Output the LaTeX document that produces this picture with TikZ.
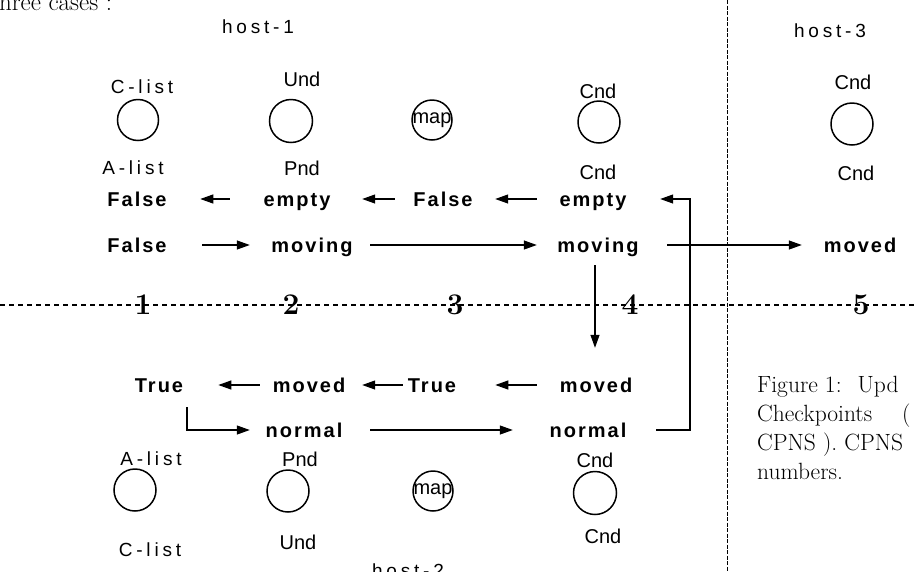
\documentclass[tikz,border=0pt]{standalone}
\usepackage{fontspec}
\usetikzlibrary{arrows.meta}
\newfontfamily\lblfont[LetterSpace=20]{Liberation Sans}
\newfontfamily\ndfont{Liberation Sans}
\newfontfamily\stfont[LetterSpace=10]{Liberation Sans Bold}
\tikzset{
  lbl/.style={font=\lblfont\fontsize{19}{21}\selectfont, inner sep=0pt},
  nd/.style={font=\ndfont\fontsize{20}{22}\selectfont, inner sep=0pt},
  st/.style={font=\stfont\fontsize{20}{22}\selectfont, inner sep=0pt, text height=14pt, text depth=0pt},
  ring/.style={draw, circle, line width=1.5pt, inner sep=0pt},
  arr/.style={line width=1.2pt, -{Triangle[length=13pt,width=9pt]}},
  num/.style={font=\bfseries\fontsize{30}{30}\selectfont, inner sep=0pt},
  capt/.style={font=\fontsize{23.5}{29}\selectfont, inner sep=0pt, anchor=base west},
  mapt/.style={font=\ndfont\fontsize{20}{22}\selectfont},
}
\begin{document}
\begin{tikzpicture}[x=1pt, y=-1pt]
\useasboundingbox (0,0) rectangle (918,571);
\clip (0,0) rectangle (918,571);

% heading fragment
\node[capt, font=\fontsize{25}{29}\selectfont] (head) at (-10,10) {three cases :};

% host labels
\node[lbl] (h1) at (258,27) {host-1};
\node[lbl] (h3) at (830,31) {host-3};
\node[lbl, anchor=base] (h2) at (408,577) {host-2};

% top circles
\node[lbl] (cl1) at (142,87) {C-list};
\node[ring, minimum size=41pt] (c1) at (138,120) {};
\node[lbl] (al1) at (133,168) {A-list};
\node[nd] (und1) at (302,79) {Und};
\node[ring, minimum size=43pt] (c2) at (291,121) {};
\node[nd] (pnd1) at (302,168) {Pnd};
\node[ring, minimum size=40pt, mapt] (map1) at (432,120) {\makebox[0pt]{map}};
\node[nd] (cnd1) at (598,91) {Cnd};
\node[ring, minimum size=42pt] (c4) at (599,122) {};
\node[nd] (cnd2) at (598,172) {Cnd};
\node[nd] (cnd3) at (853,82) {Cnd};
\node[ring, minimum size=42pt] (c5) at (852,124) {};
\node[nd] (cnd4) at (856,173) {Cnd};

% bottom circles
\node[lbl] (al2) at (151,459) {A-list};
\node[ring, minimum size=42pt] (d1) at (135,490) {};
\node[lbl] (cl2) at (150,550) {C-list};
\node[nd] (pnd2) at (300,459) {Pnd};
\node[ring, minimum size=42pt] (d2) at (288,491) {};
\node[nd] (und2) at (298,542) {Und};
\node[ring, minimum size=40pt, mapt] (map2) at (433,491) {\makebox[0pt]{map}};
\node[nd] (cnd5) at (595,460) {Cnd};
\node[ring, minimum size=43pt] (d4) at (595,493) {};
\node[nd] (cnd6) at (603,536) {Cnd};

% row 1
\node[st, minimum width=59pt] (F1) at (137,199) {False};
\node[st, minimum width=72pt] (E1) at (297,199) {empty};
\node[st, minimum width=60pt] (F2) at (443,199) {False};
\node[st, minimum width=72pt] (E2) at (593,199) {empty};
% row 2
\node[st, minimum width=59pt] (G1) at (137,245) {False};
\node[st, minimum width=85pt] (M1) at (312,245) {moving};
\node[st, minimum width=85pt] (M2) at (598,245) {moving};
\node[st, minimum width=75pt] (MV) at (860,245) {moved};
% row 3
\node[st, minimum width=48pt] (T1) at (159,385) {True};
\node[st, minimum width=75pt] (R1) at (309,385) {moved};
\node[st, minimum width=48pt] (T2) at (432,385) {True};
\node[st, minimum width=75pt] (R2) at (596,385) {moved};
% row 4
\node[st, minimum width=78pt] (N1) at (304,430) {normal};
\node[st, minimum width=78pt] (N2) at (588,430) {normal};

\coordinate (rr) at (690,300);

% arrows row 1
\draw[arr, shorten <=31pt, shorten >=33.5pt] (E1.west) -- (F1.east);
\draw[arr, shorten <=18pt, shorten >=29pt] (F2.west) -- (E1.east);
\draw[arr, shorten <=20pt, shorten >=22pt] (E2.west) -- (F2.east);
% arrows row 2
\draw[arr, shorten <=35.5pt, shorten >=19.5pt] (G1.east) -- (M1.west);
\draw[arr, shorten <=15.5pt, shorten >=18.5pt] (M1.east) -- (M2.west);
\draw[arr, shorten <=26.5pt, shorten >=20.5pt] (M2.east) -- (MV.west);
\draw[arr, shorten <=13pt, shorten >=30pt] ([xshift=-3pt]M2.south) -- ([xshift=-3pt]M2.south |- R2.north);
% arrows row 3
\draw[arr, shorten <=11.5pt, shorten >=35pt] (R1.west) -- (T1.east);
\draw[arr, shorten <=5pt, shorten >=15.5pt] (T2.west) -- (R1.east);
\draw[arr, shorten <=21.5pt, shorten >=39pt] (R2.west) -- (T2.east);
% arrows row 4
\draw[arr, shorten <=15pt, shorten >=15pt] ([xshift=28pt]T1.south) -- ([xshift=28pt]T1.south |- N1.west) -- (N1.west);
\draw[arr, shorten <=27pt, shorten >=36pt] (N1.east) -- (N2.west);
\draw[arr, shorten <=29pt, shorten >=31pt] (N2.east) -- (N2.east -| rr) -- (E2.east -| rr) -- (E2.east);

% dashed separators
\draw[dash pattern=on 5pt off 4pt, line width=1.1pt] (0,305) -- (918,305);
\draw[dash pattern=on 4pt off 1.5pt, line width=1pt] (727,0) -- (727,571);

% case numbers
\node[num] (n1) at (143,305) {1};
\node[num] (n2) at (291,305) {2};
\node[num] (n3) at (455,305) {3};
\node[num] (n4) at (630,305) {4};
\node[num] (n5) at (861,305) {5};

% caption fragment
\node[capt] (cap1) at (757,392) {Figure 1:\hspace{16pt}Upd};
\node[capt] (cap2) at (757,421) {Checkpoints\hspace{30pt}(};
\node[capt] (cap3) at (757,450) {CPNS ). CPNS};
\node[capt] (cap4) at (757,479) {numbers.};
\end{tikzpicture}
\end{document}
